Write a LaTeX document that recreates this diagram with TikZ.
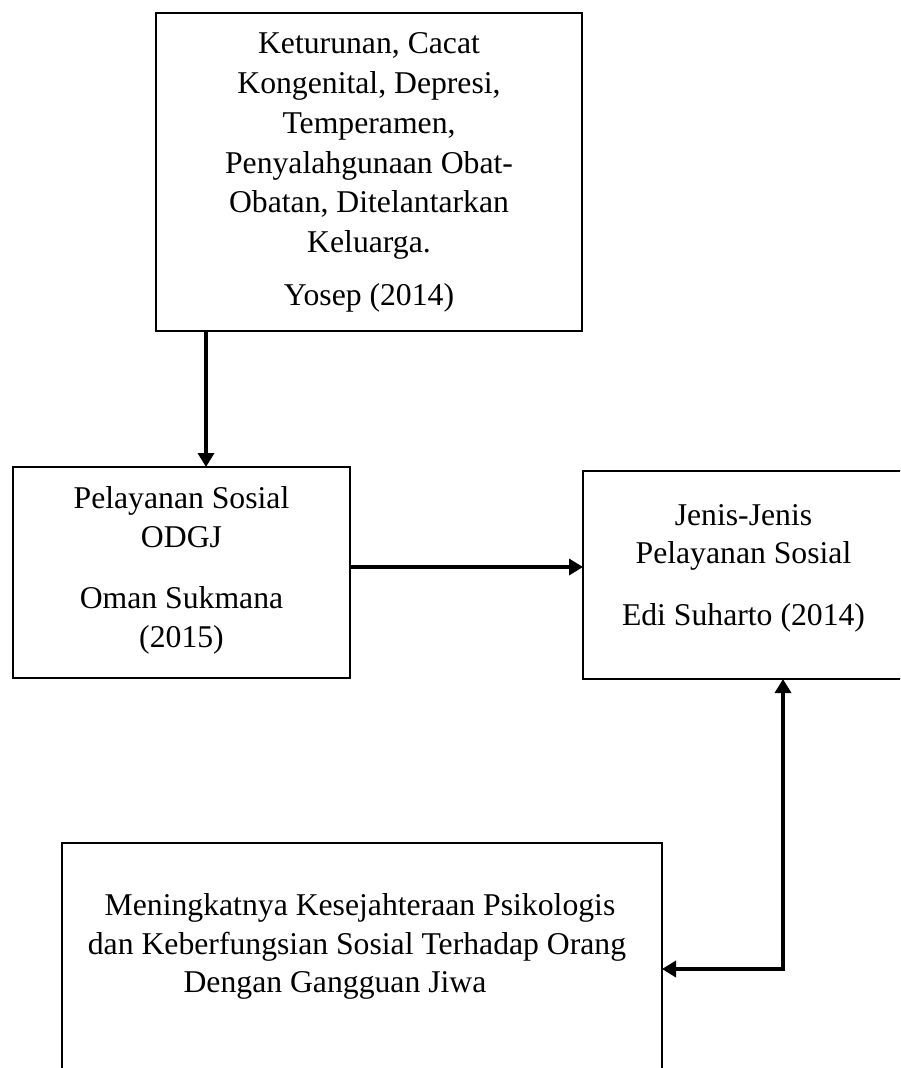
\documentclass[tikz,border=0pt]{standalone}
\usepackage{fontspec}
\setmainfont{Liberation Serif}
\usetikzlibrary{arrows.meta}
\begin{document}
\begin{tikzpicture}[x=1pt,y=-1pt,
  boxline/.style={draw=black, line width=2pt},
  box/.style={boxline, rectangle, inner sep=0pt, outer sep=0pt, anchor=north west},
  txt/.style={anchor=base, inner sep=0pt, font=\fontsize{31.7}{40}\selectfont},
  arr/.style={line width=4pt, -{Triangle[length=14pt,width=16pt]}},
  arrboth/.style={line width=4pt, {Triangle[length=14pt,width=16pt]}-{Triangle[length=14pt,width=16pt]}},
]
\useasboundingbox (0,0) rectangle (900,1068);
\clip (0,0) rectangle (900,1068);
\fill[white] (0,0) rectangle (900,1068);

% boxes
\node[box, minimum width=426pt, minimum height=318pt] (top) at (156,13) {};
\node[box, minimum width=337pt, minimum height=211pt] (left) at (13,467) {};
\node[box, minimum width=330pt, minimum height=208pt] (right) at (583,471) {};
\node[inner sep=0pt, outer sep=0pt, minimum width=600pt, minimum height=260pt, anchor=north west] (bot) at (62,843) {};
\draw[boxline] (bot.south west) -- (bot.north west) -- (bot.north east) -- (bot.south east);

% top box text
\node[txt] (t1) at (369,53) {Keturunan, Cacat};
\node[txt] (t2) at (369,93) {Kongenital, Depresi,};
\node[txt] (t3) at (369,133) {Temperamen,};
\node[txt] (t4) at (369,173) {Penyalahgunaan Obat-};
\node[txt] (t5) at (369,212) {Obatan, Ditelantarkan};
\node[txt] (t6) at (369,252) {Keluarga.};
\node[txt] (t7) at (369,305) {Yosep (2014)};

% left box text
\node[txt] (l1) at (181.5,508) {Pelayanan Sosial};
\node[txt] (l2) at (181.5,547) {ODGJ};
\node[txt] (l3) at (181.5,608) {Oman Sukmana};
\node[txt] (l4) at (181.5,647) {(2015)};

% right box text
\node[txt] (r1) at (743.5,525) {Jenis-Jenis};
\node[txt] (r2) at (743.5,563) {Pelayanan Sosial};
\node[txt] (r3) at (743.5,625) {Edi Suharto (2014)};

% bottom box text
\node[txt] (b1) at (360,915) {Meningkatnya Kesejahteraan Psikologis};
\node[txt] (b2) at (357,954) {dan Keberfungsian Sosial Terhadap Orang};
\node[txt] (b3) at (335,992) {Dengan Gangguan Jiwa};

% connectors
\coordinate (a1) at (206,0);
\draw[arr] (top.south -| a1) -- (left.north -| a1);
\coordinate (a2) at (0,567);
\draw[arr] (left.east |- a2) -- (right.west |- a2);
\coordinate (j) at (783,969);
\draw[arrboth] (right.south -| j) -- (j) -- (bot.east |- j);
\end{tikzpicture}
\end{document}
